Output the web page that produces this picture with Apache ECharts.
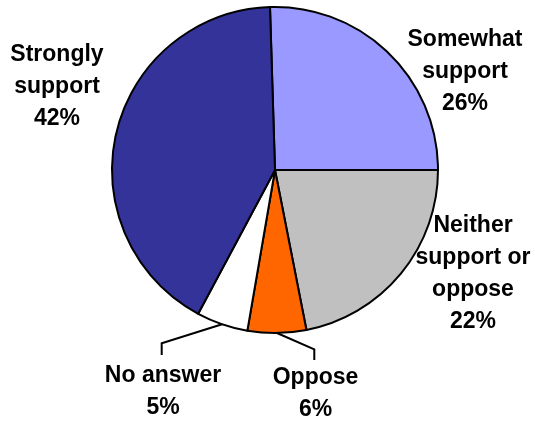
<!DOCTYPE html>
<html>
<head>
<meta charset="utf-8">
<script src="https://cdn.jsdelivr.net/npm/echarts@6/dist/echarts.min.js"></script>
<style>
  html, body { margin: 0; padding: 0; background: #ffffff; }
  #chart { width: 535px; height: 424px; }
</style>
</head>
<body>
<div id="chart"></div>
<script>
// ---- Data (clockwise from 12 o'clock) ----
const categories = ['Somewhat\nsupport', 'Neither\nsupport or\noppose', 'Oppose', 'No answer', 'Strongly\nsupport'];
const values = [25.5, 21.9, 5.8, 5.1, 41.7];
const colors = ['#9999FF', '#C0C0C0', '#FF6600', '#FFFFFF', '#333399'];
const hasLeader = [false, false, true, true, false];

// ---- Layout (label anchor = centre of text block) ----
const labelPos = [
  [465, 71.5],
  [473, 274],
  [315.5, 394],
  [163, 392],
  [57, 86.4]
];
// leader line elbow / end offsets relative to label anchor
const leaderOffsets = {
  2: [[-1.2, -44.7], [-1.2, -34]],
  3: [[-1.3, -48.7], [-1.3, -37]]
};

const chart = echarts.init(document.getElementById('chart'), null, { renderer: 'canvas' });

const data = categories.map((name, i) => ({
  name: name,
  value: values[i],
  itemStyle: { color: colors[i] },
  labelLine: { show: hasLeader[i] }
}));

chart.setOption({
  backgroundColor: '#ffffff',
  animation: false,
  series: [{
    type: 'pie',
    center: [275, 170],
    radius: [0, 163],
    startAngle: 91.76,
    clockwise: true,
    avoidLabelOverlap: false,
    silent: true,
    data: data,
    itemStyle: { borderColor: '#000000', borderWidth: 2 },
    label: {
      show: true,
      position: 'outside',
      formatter: p => p.name + '\n' + Math.round(p.value) + '%',
      fontFamily: '"Liberation Sans", Arial, sans-serif',
      fontWeight: 'bold',
      fontSize: 23,
      lineHeight: 32,
      color: '#000000',
      align: 'center'
    },
    labelLine: {
      show: true,
      lineStyle: { color: '#000000', width: 2 }
    },
    labelLayout: function (params) {
      const i = params.dataIndex;
      const pos = labelPos[i];
      const res = { x: pos[0], y: pos[1], align: 'center', verticalAlign: 'middle' };
      if (leaderOffsets[i]) {
        let start;
        if (params.labelLinePoints && params.labelLinePoints[0]) {
          start = params.labelLinePoints[0];
        } else {
          start = [pos[0], pos[1] - 60];
        }
        const o = leaderOffsets[i];
        res.labelLinePoints = [
          [start[0], start[1]],
          [pos[0] + o[0][0], pos[1] + o[0][1]],
          [pos[0] + o[1][0], pos[1] + o[1][1]]
        ];
      }
      return res;
    }
  }]
});
</script>
</body>
</html>
